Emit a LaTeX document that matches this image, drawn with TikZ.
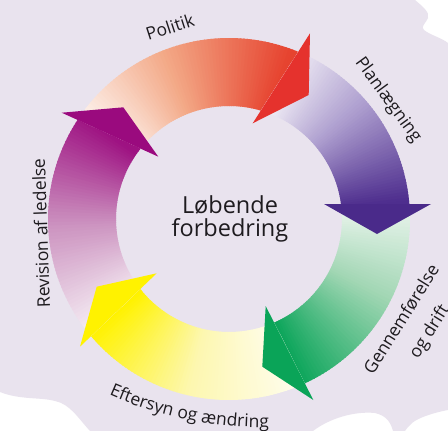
\documentclass[tikz,border=0pt]{standalone}
\usepackage{fontspec}
\setmainfont{Open Sans}
\usetikzlibrary{decorations.text}

\definecolor{lavender}{HTML}{E9E3EE}
\definecolor{ink}{HTML}{1E1B1F}
% ramps: tail, middle, head end of each arrow body; head fill
\definecolor{redA}{HTML}{FDF2EC}\definecolor{redB}{HTML}{F3A886}\definecolor{redC}{HTML}{E6432F}\definecolor{redH}{HTML}{E5322D}
\definecolor{purA}{HTML}{F3F0F7}\definecolor{purB}{HTML}{AFA0D0}\definecolor{purC}{HTML}{4E2E8E}\definecolor{purH}{HTML}{4A2A8A}
\definecolor{grnA}{HTML}{EDF6EF}\definecolor{grnB}{HTML}{A3D7B5}\definecolor{grnC}{HTML}{0EA65C}\definecolor{grnH}{HTML}{0AA458}
\definecolor{yelA}{HTML}{FFFDF0}\definecolor{yelB}{HTML}{FDF7B0}\definecolor{yelC}{HTML}{FFF200}\definecolor{yelH}{HTML}{FFF200}
\definecolor{magA}{HTML}{F6EFF5}\definecolor{magB}{HTML}{CC93C0}\definecolor{magC}{HTML}{9E1282}\definecolor{magH}{HTML}{9A0A7E}

\newcommand\labelfont{\fontsize{17.5}{20}\selectfont}

% keep one side of the line through an inner barb (#1,#2) and an outer barb (#3,#4);
% #5 = 1 keeps the counter-clockwise side, -1 the clockwise side
\newcommand\sideclip[5]{%
  \pgfmathsetmacro\ux{(#3)-(#1)}%
  \pgfmathsetmacro\uy{(#4)-(#2)}%
  \pgfmathsetmacro\nx{-(#5)*6*(\uy)}%
  \pgfmathsetmacro\ny{(#5)*6*(\ux)}%
  \clip ({(#1)-3*(\ux)},{(#2)-3*(\uy)}) -- ({(#1)+4*(\ux)},{(#2)+4*(\uy)})
     -- ({(#1)+4*(\ux)+(\nx)},{(#2)+4*(\uy)+(\ny)}) -- ({(#1)-3*(\ux)+(\nx)},{(#2)-3*(\uy)+(\ny)}) -- cycle;}

% ring segment from angle #1 (tail) to #2 (head), shaded #3 -> #4 -> #5, middle stop at #6
\newcommand\ringbody[6]{%
  \foreach \i in {0,...,79}{%
    \pgfmathsetmacro\ta{(#1)+8+((#2)-(#1)-16)*\i/80}%
    \pgfmathsetmacro\tb{(#1)+8+((#2)-(#1)-16)*(\i+1.4)/80}%
    \pgfmathsetmacro\tt{max(0,min(1,((\ta+\tb)/2-(#1))/((#2)-(#1))))}%
    \pgfmathsetmacro\pa{min(100,100*\tt/#6)}%
    \pgfmathsetmacro\pb{100-max(0,100*(\tt-#6)/(1-#6))}%
    \colorlet{slicecol}{#4!\pa!#3!\pb!#5}%
    \fill[slicecol] ([shift={(hub)}]\ta:113pt) arc[start angle=\ta, end angle=\tb, radius=113pt]
      -- ([shift={(hub)}]\tb:181pt) arc[start angle=\tb, end angle=\ta, radius=181pt] -- cycle;
  }}

\tikzset{lbl/.style={font=\labelfont, text=ink, inner sep=0pt}}

\begin{document}
\begin{tikzpicture}[x=1pt,y=1pt]
\useasboundingbox (0,0) rectangle (448,-431);
\fill[white] (0,0) rectangle (448,-431);

% lavender sheet with torn edges
\fill[lavender] (0,0) -- (415,0)
  .. controls (422,-6) and (430,-12) .. (428,-18)
  .. controls (426,-23) and (420,-27) .. (424,-30)
  .. controls (430,-35) and (442,-38) .. (448,-43)
  -- (448,-410)
  .. controls (432,-413) and (418,-418) .. (412,-423)
  .. controls (408,-427) and (406,-429) .. (405,-431)
  -- (393,-431)
  .. controls (391,-424) and (388,-416) .. (375,-413)
  .. controls (355,-411) and (330,-418) .. (313,-431)
  -- (90,-431)
  .. controls (78,-418) and (70,-404) .. (55,-401)
  .. controls (40,-397) and (20,-400) .. (0,-392)
  -- cycle;

\coordinate (hub) at (229,-219);

% arrow bodies, each trimmed between the previous head and its own head
\begin{scope}
  \sideclip{158.3}{-156.7}{61.7}{-112.7}{-1}
  \sideclip{252.7}{-123.3}{310}{-33.3}{1}
  \ringbody{144.7}{69.6}{redA}{redB}{redC}{0.45}
\end{scope}
\begin{scope}
  \sideclip{252.7}{-123.3}{310}{-33.3}{-1}
  \sideclip{324}{-204}{431}{-204}{1}
  \ringbody{69.6}{5.8}{purA}{purB}{purC}{0.45}
\end{scope}
\begin{scope}
  \sideclip{324}{-204}{431}{-204}{-1}
  \sideclip{265.7}{-306}{313.3}{-400}{1}
  \ringbody{5.8}{-65.7}{grnA}{grnB}{grnC}{0.45}
\end{scope}
\begin{scope}
  \sideclip{265.7}{-306}{313.3}{-400}{-1}
  \sideclip{156.7}{-273.3}{80}{-346.7}{1}
  \ringbody{-65.7}{-140.6}{yelA}{yelB}{yelC}{0.5}
\end{scope}
\begin{scope}
  \sideclip{156.7}{-273.3}{80}{-346.7}{-1}
  \sideclip{158.3}{-156.7}{61.7}{-112.7}{1}
  \ringbody{219.4}{144.7}{magA}{magB}{magC}{0.5}
\end{scope}

% arrow heads
\fill[redH] (252.7,-123.3) -- (310,-33.3) -- (308.7,-95) -- cycle;
\fill[purH] (324,-204) -- (431,-204) -- (377,-234) -- cycle;
\fill[grnH] (265.7,-306) -- (313.3,-400) -- (262.3,-366.7) -- cycle;
\fill[yelH] (156.7,-273.3) -- (80,-346.7) -- (96.7,-286.7) -- cycle;
\fill[magH] (158.3,-156.7) -- (61.7,-112.7) -- (123.3,-107.3) -- cycle;

% texts
\node[font=\fontsize{23.5}{23.7}\selectfont, text=ink, align=center, inner sep=0pt] (centre) at (230,-219) {Løbende\\forbedring};
\node[lbl, rotate=18] (politik) at (170,-27) {Politik};
\node[lbl, rotate=-54] (plan) at (388,-100) {Planlægning};
\node[lbl, rotate=58] (gennem) at (401,-319) {Gennemførelse};
\node[lbl, rotate=58] (drift) at (430,-332) {og drift};
\node[lbl, rotate=92, anchor=base] (revision) at (47.5,-233) {Revision af ledelse};
\path[decorate, decoration={text along path, text align=center,
    text={|\labelfont\color{ink}|Eftersyn og ændring}}]
  ([shift={(262.3,-50.4)}]-125:377pt) arc[start angle=-125, end angle=-78, radius=377pt];
\end{tikzpicture}
\end{document}
